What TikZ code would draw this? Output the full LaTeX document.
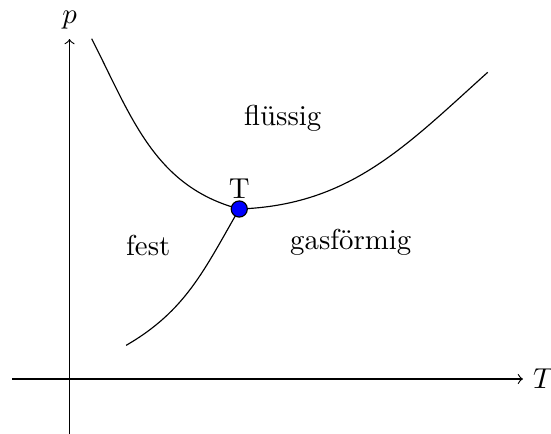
\documentclass[tikz,border=0pt]{standalone}
\usepackage{fontspec}
\usepackage{amsmath}
\usepackage{tikz}

\begin{document}
\begin{tikzpicture}
				\tikzstyle{tripel}=[circle,draw=black,fill=blue,inner sep=0pt,minimum size=5.6pt]
				\useasboundingbox (-0.848,-0.671) rectangle (5.872,4.622);
				\coordinate (tmin) at (-0.70,0);
				\coordinate (tmax) at (5.53,0);
				\coordinate (pmin) at (0,-0.671);
				\coordinate (pmax) at (0,4.146);
				\draw [black,->] (tmin) -- (tmax) node [right] (taxis) {$T$};
				\draw [black,->] (pmin) -- (pmax) node [above] (paxis) {$p$};
				\coordinate (schmelz) at (0.27,4.15);
				\coordinate (siede) at (5.10,3.74);
				\coordinate (sublim) at (0.69,0.41);
				\coordinate (tp) at (2.07,2.073);
				\draw [black] (schmelz) to [out=-63,in=165] (tp);
				\draw [black] (tp) to [out=2,in=222] (siede);
				\draw [black] (sublim) to [out=30,in=240] (tp);
				\node [tripel] (tpdot) at (tp) {};
				\node [above] (tplabel) at (tp) {T};
				\node (fluessig) at (2.60,3.18) {flüssig};
				\node (fest) at (0.96,1.63) {fest};
				\node (gas) at (3.43,1.67) {gasförmig};
			\end{tikzpicture}
\end{document}
